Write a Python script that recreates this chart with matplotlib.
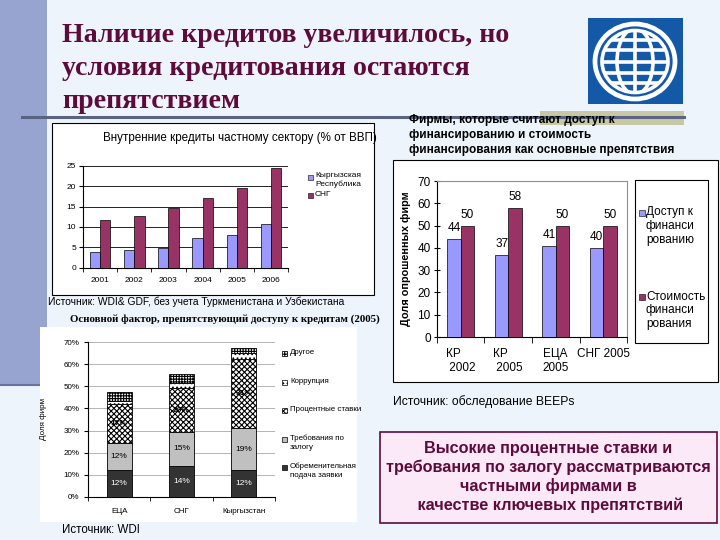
import matplotlib
matplotlib.use('Agg')
import matplotlib.pyplot as plt
from matplotlib.patches import Rectangle, Ellipse
from matplotlib.lines import Line2D
import numpy as np

plt.rcParams['font.family'] = ['Liberation Sans', 'DejaVu Sans']
plt.rcParams['hatch.linewidth'] = 0.8

# ---------------- data ----------------
years = ['2001', '2002', '2003', '2004', '2005', '2006']
credit_kyrgyz = [3.8, 4.3, 4.8, 7.2, 8.0, 10.7]
credit_cis = [11.6, 12.7, 14.6, 17.1, 19.5, 24.4]
credit_series = ['Кыргызская\nРеспублика', 'СНГ']

regions = ['ЕЦА', 'СНГ', 'Кыргызстан']
obstacle_application = [12.3, 14.1, 12.1]
obstacle_collateral = [12.2, 15.1, 18.9]
obstacle_interest = [17.4, 19.9, 31.4]
obstacle_corruption = [1.6, 2.6, 2.6]
obstacle_other = [4.1, 3.9, 2.3]
obstacle_names = ['Обременительная\nподача заявки', 'Требования по\nзалогу',
                  'Процентные ставки', 'Коррупция', 'Другое']

survey_groups = ['КР\n 2002', 'КР\n 2005', 'ЕЦА\n2005', 'СНГ 2005']
access_share = [44, 37, 41, 40]
cost_share = [50, 58, 50, 50]
survey_series = ['Доступ к\nфинанси\nрованию', 'Стоимость\nфинанси\nрования']

BLUE = '#9999FF'
MAROON = '#993366'
TITLE_C = '#5E0B3C'

# ---------------- helpers (pixel coords, y down) ----------------
W, H = 720, 540
fig = plt.figure(figsize=(7.2, 5.4), dpi=100)
fig.patch.set_facecolor('#EEF4FC')


def frect(x0, y0, x1, y1, **kw):
    r = Rectangle((x0 / W, 1 - y1 / H), (x1 - x0) / W, (y1 - y0) / H,
                  transform=fig.transFigure, **kw)
    fig.add_artist(r)
    return r


def ftext(x, y, s, **kw):
    return fig.text(x / W, 1 - y / H, s, **kw)


def fax(x0, y0, x1, y1):
    return fig.add_axes([x0 / W, 1 - y1 / H, (x1 - x0) / W, (y1 - y0) / H])


def fline(x0, y0, x1, y1, **kw):
    fig.add_artist(Line2D([x0 / W, x1 / W], [1 - y0 / H, 1 - y1 / H],
                          transform=fig.transFigure, **kw))


# ---------------- slide decoration ----------------
frect(0, 0, 47, 386, fc='#98A4D0', ec='none', zorder=0)
fline(0, 385, 40, 385, color='#6A72A0', lw=1.5, zorder=0.5)
frect(540, 111, 684, 125, fc='#C9C8A6', ec='none', zorder=0.5)
fline(22, 117, 684, 117, color='#5B6382', lw=2.2, zorder=0.6)

for yb, line in zip([42, 75, 108], ['Наличие кредитов увеличилось, но',
                                    'условия кредитования остаются',
                                    'препятствием']):
    ftext(62, yb, line, family='Liberation Serif', weight='bold', size=20.1,
          color=TITLE_C, va='baseline')

# logo
axl = fax(588, 18, 683, 104)
axl.set_facecolor('#1459A8')
axl.set_xlim(588, 683)
axl.set_ylim(104, 18)
axl.set_xticks([]); axl.set_yticks([])
for s in axl.spines.values():
    s.set_visible(False)
cx, cy = 635, 61.5
axl.add_patch(Ellipse((cx, cy), 80, 75, fill=False, ec='white', lw=3.4))
clip = Ellipse((cx, cy), 66, 62, fill=False, ec='none')
axl.add_patch(clip)
grid_items = [axl.plot([cx, cx], [18, 104], color='white', lw=2.6)[0]]
for yy in [cy, cy - 11.5, cy + 11.5, cy - 21.5, cy + 21.5]:
    grid_items.append(axl.plot([588, 683], [yy, yy], color='white', lw=2.6)[0])
mer = Ellipse((cx, cy), 36, 66, fill=False, ec='white', lw=2.6)
axl.add_patch(mer)
grid_items.append(mer)
outer = Ellipse((cx, cy), 66, 62, fill=False, ec='white', lw=2.6)
axl.add_patch(outer)
for g in grid_items:
    g.set_clip_path(clip)

# ---------------- chart 1: domestic credit ----------------
frect(52, 123, 374, 295, fc='white', ec='black', lw=0.8, zorder=1)
ftext(240, 138, 'Внутренние кредиты частному сектору (% от ВВП)', ha='center',
      va='center', size=8.4, zorder=3)
ax1 = fax(83, 165.7, 288, 267.7)
ax1.set_zorder(2)
ax1.set_facecolor('none')
x = np.arange(len(years))
ax1.bar(x - 0.15, credit_kyrgyz, 0.3, color=BLUE, ec='black', lw=0.5, zorder=3)
ax1.bar(x + 0.15, credit_cis, 0.3, color=MAROON, ec='black', lw=0.5, zorder=3)
ax1.set_xlim(-0.5, len(years) - 0.5)
ax1.set_ylim(0, 25)
ax1.set_yticks(range(0, 26, 5))
ax1.yaxis.grid(True, color='black', lw=0.6)
ax1.set_axisbelow(True)
ax1.spines['top'].set_visible(False)
ax1.spines['right'].set_visible(False)
ax1.set_xticks(x, years)
ax1.set_xticks(np.arange(-0.5, len(years)), minor=True)
ax1.tick_params(axis='x', which='major', length=0, labelsize=6, pad=7)
ax1.tick_params(axis='x', which='minor', length=3, direction='out')
ax1.tick_params(axis='y', labelsize=6, length=3, direction='out', pad=2)
for yy, col, lab in zip([177, 195.7], [BLUE, MAROON], credit_series):
    frect(308, yy - 2.5, 313, yy + 2.5, fc=col, ec='black', lw=0.4, zorder=3)
    ftext(315, yy - 4.8, lab, size=6, va='top', linespacing=1.25, zorder=3)
ftext(48, 302, 'Источник: WDI& GDF, без учета Туркменистана и Узбекистана',
      size=7.4, va='center')

# ---------------- chart 2: obstacles stacked ----------------
ftext(70, 319, 'Основной фактор, препятствующий доступу к кредитам (2005)',
      family='Liberation Serif', weight='bold', size=7.8, va='center')
frect(40, 327, 357, 522, fc='white', ec='none', zorder=1)
ax2 = fax(88, 342.3, 275, 496.7)
ax2.set_zorder(2)
ax2.set_facecolor('none')
xr = np.arange(len(regions))
layers = [obstacle_application, obstacle_collateral, obstacle_interest,
          obstacle_corruption, obstacle_other]
styles = [dict(color='#333333'), dict(color='#C0C0C0'),
          dict(color='white', hatch='xxxxxx'), dict(color='white', hatch='....'),
          dict(color='white', hatch='++++++')]
bottom = np.zeros(len(regions))
for i, (vals, st) in enumerate(zip(layers, styles)):
    ax2.bar(xr, vals, 0.4, bottom=bottom, ec='black', lw=0.6, zorder=3, **st)
    if i < 3:
        for xi, v, b in zip(xr, vals, bottom):
            ax2.text(xi, b + v / 2, f'{round(v)}%', ha='center', va='center',
                     size=6, color='white' if i == 0 else 'black', zorder=4,
                     weight='bold' if i == 2 else 'normal')
    bottom += np.array(vals)
ax2.set_xlim(-0.5, len(regions) - 0.5)
ax2.set_ylim(0, 70)
ax2.set_yticks(range(0, 71, 10), [f'{v}%' for v in range(0, 71, 10)])
ax2.yaxis.grid(True, color='#A8A8A8', lw=0.6)
ax2.set_axisbelow(True)
ax2.spines['top'].set_visible(False)
ax2.spines['right'].set_visible(False)
ax2.set_xticks(xr, regions)
ax2.set_xticks(np.arange(-0.5, len(regions)), minor=True)
ax2.tick_params(axis='x', which='major', length=0, labelsize=5.8, pad=8)
ax2.tick_params(axis='x', which='minor', length=3, direction='out')
ax2.tick_params(axis='y', labelsize=5.8, length=3, direction='out', pad=3)
ax2.set_ylabel('Доля фирм', size=5.8)
ax2.yaxis.set_label_coords((47 - 88) / 187, 0.5)
leg_y = [467.3, 439.3, 410.7, 382.3, 353.3]
for yy, st, name in zip(leg_y, styles, obstacle_names):
    frect(282, yy - 2.5, 287, yy + 2.5, fc=st['color'], hatch=st.get('hatch'),
          ec='black', lw=0.5, zorder=3)
    ftext(290, yy - 4.6, name, size=5.7, va='top', linespacing=1.4, zorder=3)
ftext(62, 530, 'Источник: WDI', size=8.3, va='center')

# ---------------- chart 3: survey ----------------
for yy, line in zip([120, 135, 150], ['Фирмы, которые считают доступ к',
                                      'финансированию и стоимость',
                                      'финансирования как основные препятствия']):
    ftext(409, yy, line, weight='bold', size=8.5, va='center', zorder=2)
frect(393, 160, 718, 382, fc='white', ec='black', lw=0.8, zorder=1)
ax3 = fax(437, 181, 627, 337)
ax3.set_zorder(2)
ax3.set_facecolor('none')
xs = np.arange(len(survey_groups))
bw = 0.28
ax3.bar(xs - bw / 2, access_share, bw, color=BLUE, ec='black', lw=0.5, zorder=3)
ax3.bar(xs + bw / 2, cost_share, bw, color=MAROON, ec='black', lw=0.5, zorder=3)
for xi, a, c in zip(xs, access_share, cost_share):
    ax3.text(xi - bw / 2, a + 2, str(a), ha='center', va='bottom', size=8.5, zorder=4)
    ax3.text(xi + bw / 2, c + 2, str(c), ha='center', va='bottom', size=8.5, zorder=4)
ax3.set_xlim(-0.5, len(survey_groups) - 0.5)
ax3.set_ylim(0, 70)
ax3.set_yticks(range(0, 71, 10))
for side in ['top', 'right']:
    ax3.spines[side].set_color('#909090')
    ax3.spines[side].set_linewidth(0.8)
ax3.set_xticks(xs, survey_groups)
for lab in ax3.get_xticklabels():
    lab.set_multialignment('left')
ax3.set_xticks(np.arange(-0.5, len(survey_groups)), minor=True)
ax3.tick_params(axis='x', which='major', length=0, labelsize=8.5, pad=8)
ax3.tick_params(axis='x', which='minor', length=4, direction='out')
ax3.tick_params(axis='y', labelsize=8.5, length=5, direction='inout', pad=2)
ax3.set_ylabel('Доля опрошенных фирм', size=7.8, weight='bold')
ax3.yaxis.set_label_coords((411 - 437) / 190, 0.5)
frect(635, 180, 708, 343, fc='white', ec='black', lw=0.8, zorder=3)
for yy, col, lab in zip([213, 297], [BLUE, MAROON], survey_series):
    frect(639, yy - 3, 645, yy + 3, fc=col, ec='black', lw=0.4, zorder=4)
    ftext(646, yy - 6.5, lab, size=8.5, va='top', linespacing=1.2, zorder=4)
ftext(393, 402, 'Источник: обследование BEEPs', size=8.7, va='center')

# ---------------- conclusion box ----------------
frect(380, 432, 717, 523, fc='#FBE9F7', ec=TITLE_C, lw=1.2, zorder=1)
ftext(548.5, 477, 'Высокие процентные ставки и\nтребования по залогу рассматриваются\n'
      'частными фирмами в\n качестве ключевых препятствий',
      ha='center', va='center', multialignment='center', weight='bold', size=11.7,
      color=TITLE_C, linespacing=1.28, zorder=2)

fig.savefig('out.png', dpi=100, facecolor=fig.get_facecolor())
